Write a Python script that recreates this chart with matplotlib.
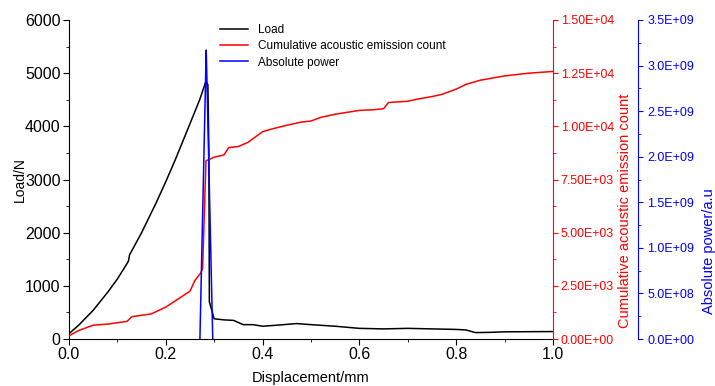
import matplotlib
matplotlib.use("Agg")
import matplotlib.pyplot as plt
from matplotlib.ticker import MultipleLocator, FormatStrFormatter

plt.rcParams['font.family'] = ['Liberation Sans', 'DejaVu Sans']

# Load curve (N) vs displacement (mm)
load_x = [0.0, 0.02, 0.05, 0.08, 0.10, 0.12, 0.123, 0.125, 0.15, 0.18, 0.20, 0.22, 0.25, 0.27, 0.283,
          0.287, 0.289, 0.290, 0.293, 0.30, 0.32, 0.34, 0.36, 0.38, 0.40, 0.43, 0.47, 0.50, 0.55,
          0.60, 0.65, 0.70, 0.75, 0.80, 0.82, 0.84, 0.87, 0.90, 1.0]
load_y = [100, 260, 540, 880, 1130, 1420, 1470, 1580, 2000, 2560, 2960, 3380, 4050, 4500, 4850,
          4780, 3500, 700, 600, 380, 360, 350, 270, 270, 240, 260, 290, 270, 240,
          200, 190, 200, 190, 180, 170, 120, 125, 135, 140]

# Cumulative acoustic emission count
ae_x = [0.0, 0.02, 0.05, 0.08, 0.12, 0.13, 0.17, 0.20, 0.25, 0.26, 0.272, 0.276, 0.283, 0.29, 0.30,
        0.32, 0.33, 0.35, 0.37, 0.40, 0.42, 0.45, 0.48, 0.50, 0.52, 0.55, 0.60, 0.63, 0.65, 0.66,
        0.70, 0.72, 0.75, 0.77, 0.80, 0.82, 0.85, 0.90, 0.95, 1.0]
ae_y = [150, 400, 650, 700, 830, 1050, 1180, 1500, 2250, 2750, 3100, 3300, 8380, 8450, 8550,
        8650, 9000, 9050, 9250, 9750, 9880, 10050, 10200, 10250, 10420, 10570, 10750, 10780, 10830, 11120,
        11180, 11280, 11400, 11500, 11750, 11970, 12170, 12370, 12500, 12580]

# Absolute power (a.u.)
pw_x = [0.2705, 0.2835, 0.2845, 0.2970]
pw_y = [0.0, 3.17e9, 2.95e9, 0.0]

fig = plt.figure(figsize=(7.15, 3.86), dpi=100)
ax = fig.add_axes([69/715, 1-339/386, (553-69)/715, (339-20)/386])
ax2 = ax.twinx()
ax3 = ax.twinx()

l1, = ax.plot(load_x, load_y, color='black', lw=1.1, label='Load')
l2, = ax2.plot(ae_x, ae_y, color='red', lw=1.1, label='Cumulative acoustic emission count')
l3, = ax3.plot(pw_x, pw_y, color='blue', lw=1.1, label='Absolute power')

ax.set_xlim(0, 1.0)
ax.set_ylim(0, 6000)
ax2.set_ylim(0, 1.5e4)
ax3.set_ylim(0, 3.5e9)

for a in (ax, ax2, ax3):
    a.spines['top'].set_visible(False)
ax.spines['right'].set_visible(False)
ax2.spines['left'].set_visible(False)
ax3.spines['left'].set_visible(False)
ax2.spines['bottom'].set_visible(False)
ax3.spines['bottom'].set_visible(False)
ax2.spines['right'].set_color('red')
ax3.spines['right'].set_color('blue')
ax3.spines['right'].set_position(('outward', 85 * 72 / 100))

ax.xaxis.set_major_locator(MultipleLocator(0.2))
ax.xaxis.set_minor_locator(MultipleLocator(0.1))
ax.xaxis.set_major_formatter(FormatStrFormatter('%.1f'))
ax.yaxis.set_major_locator(MultipleLocator(1000))
ax.yaxis.set_minor_locator(MultipleLocator(500))
ax2.yaxis.set_major_locator(MultipleLocator(2500))
ax2.yaxis.set_minor_locator(MultipleLocator(1250))
ax2.yaxis.set_major_formatter(FormatStrFormatter('%.2E'))
ax3.yaxis.set_major_locator(MultipleLocator(5e8))
ax3.yaxis.set_minor_locator(MultipleLocator(2.5e8))
ax3.yaxis.set_major_formatter(FormatStrFormatter('%.1E'))

ax.tick_params(axis='both', which='major', direction='out', length=4, labelsize=11.5, pad=2)
ax.tick_params(axis='both', which='minor', direction='out', length=2.5)
ax2.tick_params(axis='y', which='major', colors='red', length=3.6, labelsize=8.9, pad=2)
ax2.tick_params(axis='y', which='minor', colors='red', length=2.2)
ax3.tick_params(axis='y', which='major', colors='blue', length=3.6, labelsize=9.0, pad=3)
ax3.tick_params(axis='y', which='minor', colors='blue', length=2.2)

ax.set_xlabel('Displacement/mm', fontsize=10.5, labelpad=6)
ax.set_ylabel('Load/N', fontsize=10)
ax.yaxis.set_label_coords(-0.088, 0.5)

fig.text(625/715, 1-211/386, 'Cumulative acoustic emission count', color='red', rotation=90,
         ha='center', va='center', fontsize=10.5)
fig.text(709/715, 1-251/386, 'Absolute power/a.u', color='blue', rotation=90,
         ha='center', va='center', fontsize=10.5)

ax.legend(handles=[l1, l2, l3], loc='upper left', bbox_to_anchor=(0.29, 1.02), frameon=False,
          fontsize=8.5, handlelength=2.4, labelspacing=0.35, handletextpad=0.8)

fig.savefig('out.png', dpi=100)
